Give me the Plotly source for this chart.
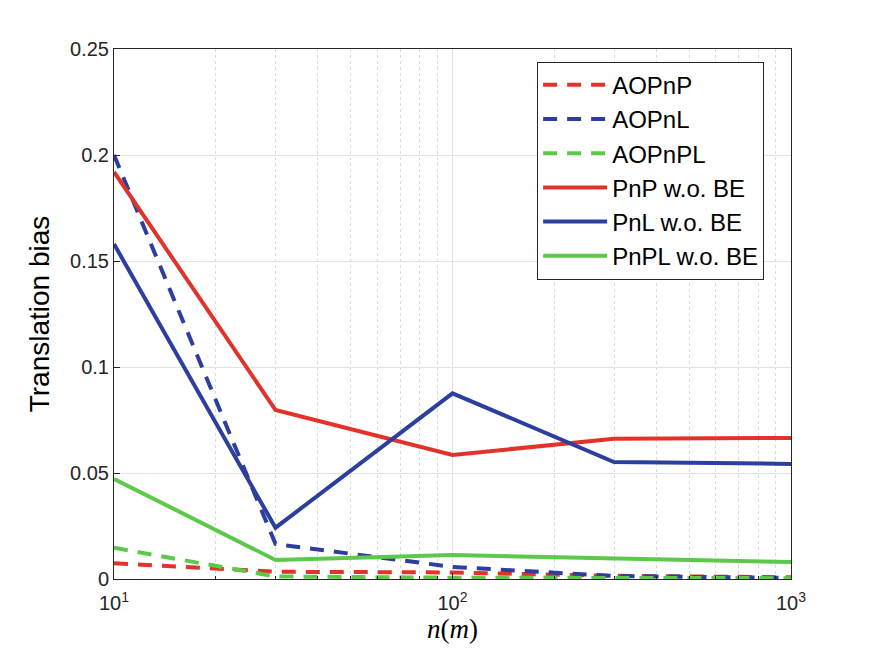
import plotly.graph_objects as go

# number of features n (log scale)
n_vals = [10, 30, 100, 300, 1000]

# translation bias per method
aopnp = [0.0074, 0.0034, 0.0031, 0.0015, 0.0008]
aopnl = [0.200, 0.0165, 0.0057, 0.0014, 0.0005]
aopnpl = [0.0147, 0.0012, 0.0006, 0.0005, 0.0004]
pnp_wo_be = [0.192, 0.0797, 0.0585, 0.0662, 0.0665]
pnl_wo_be = [0.158, 0.0242, 0.0876, 0.0552, 0.0543]
pnpl_wo_be = [0.0472, 0.0090, 0.0113, 0.0099, 0.0080]

y_ticks = [0, 0.05, 0.1, 0.15, 0.2, 0.25]
y_labels = ["0", "0.05", "0.1", "0.15", "0.2", "0.25"]
x_ticks = [10, 100, 1000]
x_labels = ["10<sup>1</sup>", "10<sup>2</sup>", "10<sup>3</sup>"]

red = "#e2332a"
blue = "#2d3f9e"
green = "#5cc94a"

series = [
    ("AOPnP", aopnp, red, "14px,10px"),
    ("AOPnL", aopnl, blue, "14px,10px"),
    ("AOPnPL", aopnpl, green, "14px,10px"),
    ("PnP w.o. BE", pnp_wo_be, red, "solid"),
    ("PnL w.o. BE", pnl_wo_be, blue, "solid"),
    ("PnPL w.o. BE", pnpl_wo_be, green, "solid"),
]

fig = go.Figure()
for name, vals, color, dash in series:
    fig.add_trace(go.Scatter(
        x=n_vals, y=vals, name=name, mode="lines",
        line=dict(color=color, width=4, dash=dash),
    ))

axis_col = "#262626"
fig.update_layout(
    width=872, height=654,
    margin=dict(l=106, r=89, t=41, b=83),
    plot_bgcolor="white",
    paper_bgcolor="white",
    font=dict(family="Liberation Sans, Arial", size=20, color=axis_col),
    legend=dict(
        x=0.625, y=0.976, xanchor="left", yanchor="top",
        bgcolor="white", bordercolor=axis_col, borderwidth=1,
        font=dict(size=24, color="black"),
        itemwidth=64, tracegroupgap=0,
    ),
    xaxis=dict(
        type="log", range=[1, 3],
        tickvals=x_ticks, ticktext=x_labels,
        showline=True, linecolor=axis_col, linewidth=1, mirror=True,
        ticks="inside", ticklen=6, tickcolor=axis_col,
        ticklabelstandoff=6,
        showgrid=True, gridcolor="#e3e3e3", gridwidth=1,
        minor=dict(dtick="D1", showgrid=True, gridcolor="#dadada",
                   griddash="dot", ticks="inside", ticklen=3, tickcolor=axis_col),
        zeroline=False,
        title=dict(text="<i>n</i>(<i>m</i>)",
                   font=dict(family="Liberation Serif, DejaVu Serif", size=27, color="black"),
                   standoff=6),
    ),
    yaxis=dict(
        range=[0, 0.25],
        tickvals=y_ticks, ticktext=y_labels,
        showline=True, linecolor=axis_col, linewidth=1, mirror=True,
        ticks="inside", ticklen=6, tickcolor=axis_col,
        showgrid=True, gridcolor="#e3e3e3", gridwidth=1,
        zeroline=False,
        title=dict(text="Translation bias", font=dict(size=28, color="black"), standoff=12),
    ),
)

fig.write_html("out.html")
